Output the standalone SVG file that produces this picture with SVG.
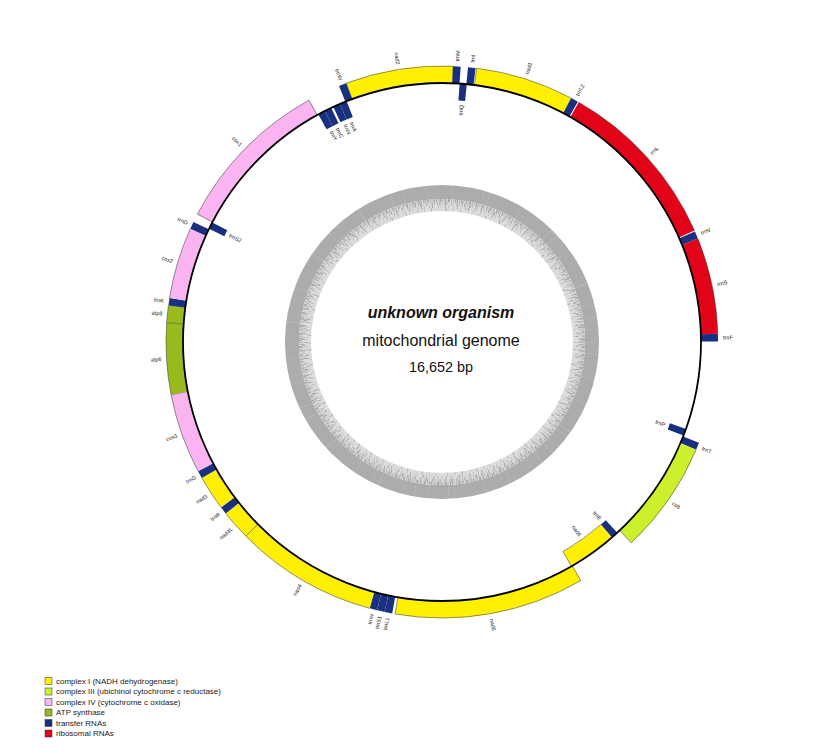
<svg xmlns="http://www.w3.org/2000/svg" width="816" height="754" viewBox="0 0 816 754">
<style>
.arc{fill:none;stroke-width:17}
.y{stroke:#ffef00}.l{stroke:#ccf02b}.p{stroke:#f9b4f1}.a{stroke:#9ab91c}.t{stroke:#18307f}.r{stroke:#e10419}
.edge{fill:none;stroke:#3a3a3a;stroke-width:0.5}
.lb{font-family:"Liberation Sans",Arial,sans-serif;font-size:5.5px;fill:#222}
.ct{font-family:"Liberation Sans",Arial,sans-serif;fill:#111;text-anchor:middle}
.lg{font-family:"Liberation Sans",Arial,sans-serif;font-size:8px;fill:#222}
.sq{stroke:#333;stroke-width:0.5}
.bar{fill:none;stroke:#a8a8a8}
</style>
<defs>
<line id="eo" x1="259" y1="0" x2="276" y2="0" stroke="#3a3a3a" stroke-width="0.5"/>
<line id="ei" x1="242" y1="0" x2="259" y2="0" stroke="#3a3a3a" stroke-width="0.5"/>
</defs>
<rect width="816" height="754" fill="#fff"/>

<g id="gc" transform="translate(442 342)">
<circle r="150" fill="none" stroke="#acacac" stroke-width="14"/>
<circle r="137" fill="none" stroke="#dcdcdc" stroke-width="12"/>
<circle class="bar" r="141.5" stroke-width="3" stroke-dasharray="1.2 0.9 0.7 1.1 1.9 0.8 0.6 1.5 1.4 0.9 0.5 0.7 2.1 1.3 0.9 0.8 0.5 1.2 1.6 0.7"/>
<circle class="bar" r="138.5" stroke-width="3" stroke-dasharray="0.8 1.5 1.3 2.1 0.5 1.4 1.8 1.2 0.5 2.6 0.9 1.1 0.6 3.2 1.2 1.3 0.7 2.2"/>
<circle class="bar" r="135.5" stroke-width="3" stroke-dasharray="0.5 3.1 1 2.4 0.4 4.2 0.8 2.1 1.2 5.3 0.5 1.9 0.4 3.6 1 2.8 0.5 4.4"/>
<circle class="bar" r="132.5" stroke-width="3" stroke-dasharray="0.4 6.8 0.8 4.4 0.3 9.1 1 5.9 0.5 7.4 0.6 11.2 0.4 6.3"/>
<circle r="144" fill="none" stroke="#fff" stroke-opacity="0.45" stroke-width="26" stroke-dasharray="0.25 11 0.2 23 0.3 7 0.2 17 0.25 29 0.2 5 0.3 19 0.2 13"/>
</g>

<g id="title">
<text class="ct" x="441" y="318" font-size="16" font-weight="bold" font-style="italic">unknown organism</text>
<text class="ct" x="441" y="346" font-size="16">mitochondrial genome</text>
<text class="ct" x="441" y="372" font-size="14.4">16,652 bp</text>
</g>

<g id="genes" transform="translate(442 342) rotate(-90)">
<g id="nad2" transform="rotate(339.7)"><circle class="arc y" r="267.5" pathLength="360" stroke-dasharray="22.6 400"/><circle class="edge" r="276" pathLength="360" stroke-dasharray="22.6 400"/><use href="#eo"/><use href="#eo" transform="rotate(22.6)"/><text class="lb" transform="rotate(11.3) translate(281 0) rotate(180)" text-anchor="end" dy=".35em">nad2</text></g>
<g id="trnW" transform="rotate(338.1)"><circle class="arc t" r="267.5" pathLength="360" stroke-dasharray="1.6 400"/><text class="lb" transform="rotate(0.8) translate(281 0) rotate(180)" text-anchor="end" dy=".35em">trnW</text></g>
<g id="trnM" transform="rotate(2.3)"><circle class="arc t" r="267.5" pathLength="360" stroke-dasharray="1.6 400"/><text class="lb" transform="rotate(0.8) translate(281 0)" dy=".35em">trnM</text></g>
<g id="trnI" transform="rotate(5.4)"><circle class="arc t" r="267.5" pathLength="360" stroke-dasharray="1.6 400"/><text class="lb" transform="rotate(0.8) translate(281 0)" dy=".35em">trnI</text></g>
<g id="nad1" transform="rotate(7.2)"><circle class="arc y" r="267.5" pathLength="360" stroke-dasharray="20.7 400"/><circle class="edge" r="276" pathLength="360" stroke-dasharray="20.7 400"/><use href="#eo"/><text class="lb" transform="rotate(10.35) translate(281 0)" dy=".35em">nad1</text></g>
<g id="trnL2" transform="rotate(27.9)"><circle class="arc t" r="267.5" pathLength="360" stroke-dasharray="1.6 400"/><text class="lb" transform="rotate(0.8) translate(281 0)" dy=".35em">trnL2</text></g>
<g id="rrnL" transform="rotate(29.7)"><circle class="arc r" r="267.5" pathLength="360" stroke-dasharray="36.5 400"/><circle class="edge" r="276" pathLength="360" stroke-dasharray="36.5 400"/><text class="lb" transform="rotate(18.25) translate(281 0)" dy=".35em">rrnL</text></g>
<g id="trnV" transform="rotate(66.4)"><circle class="arc t" r="267.5" pathLength="360" stroke-dasharray="1.6 400"/><text class="lb" transform="rotate(0.8) translate(281 0)" dy=".35em">trnV</text></g>
<g id="rrnS" transform="rotate(68.0)"><circle class="arc r" r="267.5" pathLength="360" stroke-dasharray="20.3 400"/><circle class="edge" r="276" pathLength="360" stroke-dasharray="20.3 400"/><text class="lb" transform="rotate(10.15) translate(281 0)" dy=".35em">rrnS</text></g>
<g id="trnF" transform="rotate(88.3)"><circle class="arc t" r="267.5" pathLength="360" stroke-dasharray="1.6 400"/><text class="lb" transform="rotate(0.8) translate(281 0)" dy=".35em">trnF</text></g>
<g id="trnT" transform="rotate(111.4)"><circle class="arc t" r="267.5" pathLength="360" stroke-dasharray="1.6 400"/><text class="lb" transform="rotate(0.8) translate(281 0)" dy=".35em">trnT</text></g>
<g id="cob" transform="rotate(113.0)"><circle class="arc l" r="267.5" pathLength="360" stroke-dasharray="23.7 400"/><circle class="edge" r="276" pathLength="360" stroke-dasharray="23.7 400"/><use href="#eo" transform="rotate(23.7)"/><text class="lb" transform="rotate(11.85) translate(281 0)" dy=".35em">cob</text></g>
<g id="nad5" transform="rotate(149.8)"><circle class="arc y" r="267.5" pathLength="360" stroke-dasharray="40 400"/><circle class="edge" r="276" pathLength="360" stroke-dasharray="40 400"/><use href="#eo"/><use href="#eo" transform="rotate(40)"/><text class="lb" transform="rotate(20) translate(281 0)" dy=".35em">nad5</text></g>
<g id="trnL1" transform="rotate(190.4)"><circle class="arc t" r="267.5" pathLength="360" stroke-dasharray="1.6 400"/><text class="lb" transform="rotate(0.8) translate(281 0) rotate(180)" text-anchor="end" dy=".35em">trnL1</text></g>
<g id="trnS1" transform="rotate(192.0)"><circle class="arc t" r="267.5" pathLength="360" stroke-dasharray="1.6 400"/><text class="lb" transform="rotate(0.8) translate(281 0) rotate(180)" text-anchor="end" dy=".35em">trnS1</text></g>
<g id="trnH" transform="rotate(193.6)"><circle class="arc t" r="267.5" pathLength="360" stroke-dasharray="1.6 400"/><text class="lb" transform="rotate(0.8) translate(281 0) rotate(180)" text-anchor="end" dy=".35em">trnH</text></g>
<g id="nad4" transform="rotate(195.2)"><circle class="arc y" r="267.5" pathLength="360" stroke-dasharray="30.1 400"/><circle class="edge" r="276" pathLength="360" stroke-dasharray="30.1 400"/><text class="lb" transform="rotate(15.05) translate(281 0) rotate(180)" text-anchor="end" dy=".35em">nad4</text></g>
<g id="nad4L" transform="rotate(225.3)"><circle class="arc y" r="267.5" pathLength="360" stroke-dasharray="6.3 400"/><circle class="edge" r="276" pathLength="360" stroke-dasharray="6.3 400"/><use href="#eo"/><text class="lb" transform="rotate(3.15) translate(281 0) rotate(180)" text-anchor="end" dy=".35em">nad4L</text></g>
<g id="trnR" transform="rotate(231.6)"><circle class="arc t" r="267.5" pathLength="360" stroke-dasharray="1.6 400"/><text class="lb" transform="rotate(0.8) translate(281 0) rotate(180)" text-anchor="end" dy=".35em">trnR</text></g>
<g id="nad3" transform="rotate(233.2)"><circle class="arc y" r="267.5" pathLength="360" stroke-dasharray="7.3 400"/><circle class="edge" r="276" pathLength="360" stroke-dasharray="7.3 400"/><text class="lb" transform="rotate(3.65) translate(281 0) rotate(180)" text-anchor="end" dy=".35em">nad3</text></g>
<g id="trnG" transform="rotate(240.5)"><circle class="arc t" r="267.5" pathLength="360" stroke-dasharray="1.6 400"/><text class="lb" transform="rotate(0.8) translate(281 0) rotate(180)" text-anchor="end" dy=".35em">trnG</text></g>
<g id="cox3" transform="rotate(242.1)"><circle class="arc p" r="267.5" pathLength="360" stroke-dasharray="16.9 400"/><circle class="edge" r="276" pathLength="360" stroke-dasharray="16.9 400"/><use href="#eo" transform="rotate(16.9)"/><text class="lb" transform="rotate(8.45) translate(281 0) rotate(180)" text-anchor="end" dy=".35em">cox3</text></g>
<g id="atp6" transform="rotate(259.0)"><circle class="arc a" r="267.5" pathLength="360" stroke-dasharray="15 400"/><circle class="edge" r="276" pathLength="360" stroke-dasharray="15 400"/><text class="lb" transform="rotate(7.5) translate(281 0) rotate(180)" text-anchor="end" dy=".35em">atp6</text></g>
<g id="atp8" transform="rotate(274.0)"><circle class="arc a" r="267.5" pathLength="360" stroke-dasharray="3.6 400"/><circle class="edge" r="276" pathLength="360" stroke-dasharray="3.6 400"/><use href="#eo"/><text class="lb" transform="rotate(1.8) translate(281 0) rotate(180)" text-anchor="end" dy=".35em">atp8</text></g>
<g id="trnK" transform="rotate(277.6)"><circle class="arc t" r="267.5" pathLength="360" stroke-dasharray="1.6 400"/><text class="lb" transform="rotate(0.8) translate(281 0) rotate(180)" text-anchor="end" dy=".35em">trnK</text></g>
<g id="cox2" transform="rotate(279.2)"><circle class="arc p" r="267.5" pathLength="360" stroke-dasharray="15 400"/><circle class="edge" r="276" pathLength="360" stroke-dasharray="15 400"/><text class="lb" transform="rotate(7.5) translate(281 0) rotate(180)" text-anchor="end" dy=".35em">cox2</text></g>
<g id="trnD" transform="rotate(294.2)"><circle class="arc t" r="267.5" pathLength="360" stroke-dasharray="1.6 400"/><text class="lb" transform="rotate(0.8) translate(281 0) rotate(180)" text-anchor="end" dy=".35em">trnD</text></g>
<g id="cox1" transform="rotate(297.6)"><circle class="arc p" r="267.5" pathLength="360" stroke-dasharray="33.6 400"/><circle class="edge" r="276" pathLength="360" stroke-dasharray="33.6 400"/><use href="#eo"/><use href="#eo" transform="rotate(33.6)"/><text class="lb" transform="rotate(16.8) translate(281 0) rotate(180)" text-anchor="end" dy=".35em">cox1</text></g>

<g id="trnQ" transform="rotate(3.9)"><circle class="arc t" r="250.5" pathLength="360" stroke-dasharray="1.6 400"/><text class="lb" transform="rotate(0.8) translate(238 0)" text-anchor="end" dy=".35em">trnQ</text></g>
<g id="trnP" transform="rotate(109.6)"><circle class="arc t" r="250.5" pathLength="360" stroke-dasharray="1.6 400"/><text class="lb" transform="rotate(0.8) translate(238 0)" text-anchor="end" dy=".35em">trnP</text></g>
<g id="trnE" transform="rotate(137.4)"><circle class="arc t" r="250.5" pathLength="360" stroke-dasharray="1.6 400"/><text class="lb" transform="rotate(0.8) translate(238 0)" text-anchor="end" dy=".35em">trnE</text></g>
<g id="nad6" transform="rotate(139.0)"><circle class="arc y" r="250.5" pathLength="360" stroke-dasharray="11 400"/><circle class="edge" r="242" pathLength="360" stroke-dasharray="11 400"/><use href="#ei" transform="rotate(11)"/><text class="lb" transform="rotate(5.5) translate(238 0)" text-anchor="end" dy=".35em">nad6</text></g>
<g id="trnS2" transform="rotate(295.9)"><circle class="arc t" r="250.5" pathLength="360" stroke-dasharray="1.6 400"/><text class="lb" transform="rotate(0.8) translate(238 0) rotate(180)" dy=".35em">trnS2</text></g>
<g id="trnY" transform="rotate(331.5)"><circle class="arc t" r="250.5" pathLength="360" stroke-dasharray="1.6 400"/><text class="lb" transform="rotate(0.8) translate(238 0) rotate(180)" dy=".35em">trnY</text></g>
<g id="trnC" transform="rotate(333.1)"><circle class="arc t" r="250.5" pathLength="360" stroke-dasharray="1.6 400"/><text class="lb" transform="rotate(0.8) translate(238 0) rotate(180)" dy=".35em">trnC</text></g>
<g id="trnN" transform="rotate(335.2)"><circle class="arc t" r="250.5" pathLength="360" stroke-dasharray="1.6 400"/><text class="lb" transform="rotate(0.8) translate(238 0) rotate(180)" dy=".35em">trnN</text></g>
<g id="trnA" transform="rotate(336.8)"><circle class="arc t" r="250.5" pathLength="360" stroke-dasharray="1.6 400"/><text class="lb" transform="rotate(0.8) translate(238 0) rotate(180)" dy=".35em">trnA</text></g>
</g>

<g id="genome-circle">
<circle cx="442" cy="342" r="259" fill="none" stroke="#000" stroke-width="1.8"/>
</g>

<g id="legend">
<rect class="sq" x="45" y="677.5" width="7" height="7" fill="#ffef00"/><text class="lg" x="56" y="683.8">complex I (NADH dehydrogenase)</text>
<rect class="sq" x="45" y="688" width="7" height="7" fill="#ccf02b"/><text class="lg" x="56" y="694.3">complex III (ubichinol cytochrome c reductase)</text>
<rect class="sq" x="45" y="698.5" width="7" height="7" fill="#f9b4f1"/><text class="lg" x="56" y="704.8">complex IV (cytochrome c oxidase)</text>
<rect class="sq" x="45" y="709" width="7" height="7" fill="#9ab91c"/><text class="lg" x="56" y="715.3">ATP synthase</text>
<rect class="sq" x="45" y="719.5" width="7" height="7" fill="#18307f"/><text class="lg" x="56" y="725.8">transfer RNAs</text>
<rect class="sq" x="45" y="730" width="7" height="7" fill="#e10419"/><text class="lg" x="56" y="736.3">ribosomal RNAs</text>
</g>
</svg>
